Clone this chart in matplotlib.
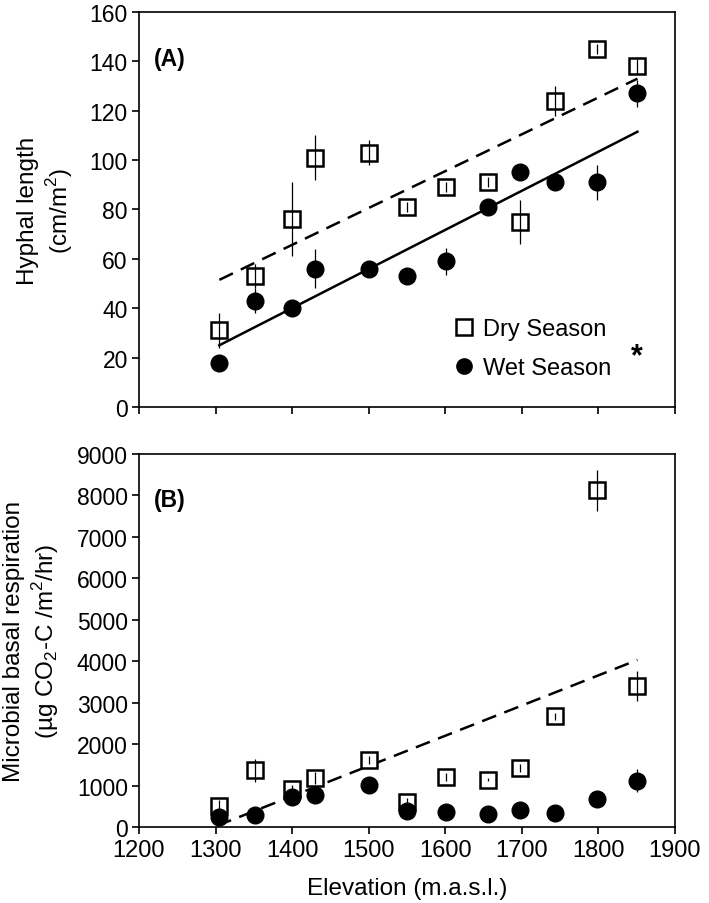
import numpy as np
import matplotlib
matplotlib.use("Agg")
import matplotlib.pyplot as plt
from matplotlib.lines import Line2D

plt.rcParams['font.family'] = ['Liberation Sans', 'DejaVu Sans']
plt.rcParams['mathtext.fontset'] = 'custom'
plt.rcParams['mathtext.rm'] = 'Liberation Sans'

# elevation of the sampling sites (m.a.s.l.)
elev = [1305, 1352, 1400, 1430, 1501, 1550, 1601, 1656, 1698, 1743, 1798, 1851]

# (A) hyphal length, cm/m2
hyph_dry = [31, 53, 76, 101, 103, 81, 89, 91, 75, 124, 145, 138]
hyph_dry_err = [7, 5, 15, 9, 5, 2, 2, 2, 9, 6, 2, 3]
hyph_wet = [18, 43, 40, 56, 56, 53, 59, 81, 95, 91, 91, 127]
hyph_wet_err = [0, 5, 0, 8, 0, 0, 5.5, 0, 0, 0, 7, 5.5]

# (B) microbial basal respiration, ug CO2-C /m2/hr
resp_dry = [510, 1370, 920, 1180, 1620, 610, 1200, 1140, 1420, 2670, 8120, 3410]
resp_dry_err = [150, 280, 100, 150, 100, 100, 100, 40, 100, 80, 500, 360]
resp_wet = [230, 290, 720, 760, 1020, 390, 370, 310, 410, 330, 680, 1120]
resp_wet_err = [0, 0, 0, 0, 0, 0, 0, 0, 0, 0, 0, 280]

# regression lines (end points)
fit_x = [1305, 1851]
hyph_dry_fit = [51.5, 133]
hyph_wet_fit = [25, 111.5]
resp_fit_x = [1302, 1851]
resp_dry_fit = [30, 4030]

fig = plt.figure(figsize=(7.09, 9.04), dpi=100)
ax1 = fig.add_axes([0.196, 0.5487, 0.756, 0.4369])
ax2 = fig.add_axes([0.196, 0.0841, 0.756, 0.4126])

sq = dict(marker='s', ms=12, mfc='white', mec='black', mew=1.8, ls='none', zorder=3)
ci = dict(marker='o', ms=12, mfc='black', mec='black', ls='none', zorder=5)
eb = dict(fmt='none', ecolor='black', elinewidth=0.9, capsize=0)

# panel A
ax1.plot(fit_x, hyph_dry_fit, color='black', lw=1.8, dashes=(6, 3.5), zorder=2)
ax1.plot(fit_x, hyph_wet_fit, color='black', lw=1.8, zorder=2)
ax1.plot(elev, hyph_dry, **sq)
ax1.errorbar(elev, hyph_dry, yerr=hyph_dry_err, zorder=4, **eb)
ax1.plot(elev, hyph_wet, **ci)
ax1.errorbar(elev, hyph_wet, yerr=hyph_wet_err, zorder=4, **eb)

# panel B
ax2.plot(resp_fit_x, resp_dry_fit, color='black', lw=1.8, dashes=(6, 3.5), zorder=2)
ax2.plot(elev, resp_dry, **sq)
ax2.errorbar(elev, resp_dry, yerr=resp_dry_err, zorder=4, **eb)
ax2.plot(elev, resp_wet, **ci)
ax2.errorbar(elev, resp_wet, yerr=resp_wet_err, zorder=6, **eb)

for ax in (ax1, ax2):
    ax.set_xlim(1200, 1900)
    ax.set_xticks(np.arange(1200, 1901, 100))
    for s in ax.spines.values():
        s.set_linewidth(1.2)
    ax.tick_params(direction='out', length=5, width=1.2, pad=3)
    ax.tick_params(axis='x', labelsize=17, pad=4)
    ax.tick_params(axis='y', labelsize=16.5)

ax1.set_ylim(0, 160)
ax1.set_yticks(np.arange(0, 161, 20))
ax1.tick_params(axis='x', labelbottom=False)
ax2.set_ylim(0, 9000)
ax2.set_yticks(np.arange(0, 9001, 1000))

ax1.set_ylabel('Hyphal length\n(cm/m$^2$)', fontsize=17.5, linespacing=1.2)
ax1.yaxis.set_label_coords(-0.12, 0.5)
ax2.set_ylabel('Microbial basal respiration\n(µg CO$_2$-C /m$^2$/hr)', fontsize=17.5,
               linespacing=1.2)
ax2.yaxis.set_label_coords(-0.146, 0.5)
ax2.set_xlabel('Elevation (m.a.s.l.)', fontsize=17.5, labelpad=11)

ax1.text(0.027, 0.865, '(A)', transform=ax1.transAxes, fontsize=16.5, fontweight='bold')
ax2.text(0.027, 0.86, '(B)', transform=ax2.transAxes, fontsize=16.5, fontweight='bold')

handles = [Line2D([], [], marker='s', ms=11, mfc='white', mec='black', mew=1.8, ls='none'),
           Line2D([], [], marker='o', ms=11, mfc='black', mec='black', ls='none')]
ax1.legend(handles, ['Dry Season', 'Wet Season'], loc='lower left',
           bbox_to_anchor=(0.545, 0.017), frameon=False, fontsize=17,
           handletextpad=0.3, labelspacing=0.72, handlelength=1.0)
ax1.text(0.929, 0.129, '*', transform=ax1.transAxes, fontsize=22, fontweight='bold',
         ha='center', va='center')

fig.savefig('out.png', dpi=100)
